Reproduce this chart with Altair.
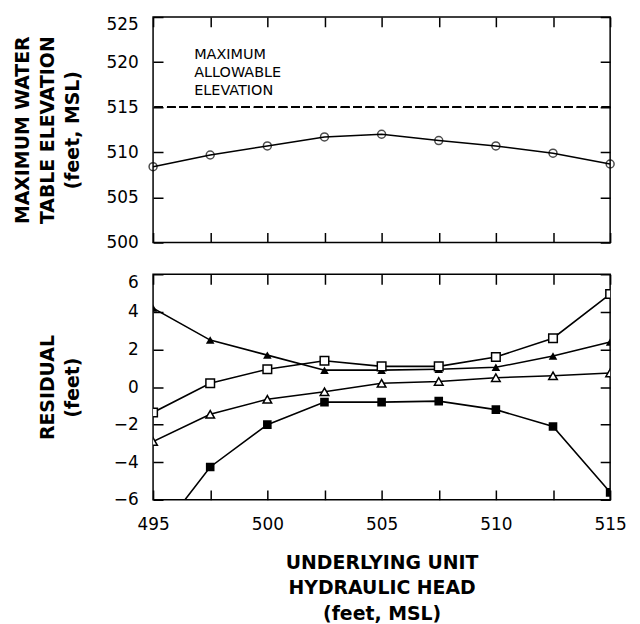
import altair as alt
import pandas as pd

# ---- data ----
head = [495, 497.5, 500, 502.5, 505, 507.5, 510, 512.5, 515]
max_wt = [508.4, 509.7, 510.7, 511.7, 512.0, 511.3, 510.7, 509.9, 508.7]

filled_tri = [4.2, 2.5, 1.7, 0.9, 0.9, 0.95, 1.05, 1.65, 2.4]
open_sq = [-1.35, 0.2, 0.95, 1.4, 1.1, 1.1, 1.6, 2.6, 4.95]
open_tri = [-2.9, -1.45, -0.65, -0.25, 0.2, 0.3, 0.5, 0.6, 0.75]
filled_sq = [-8.2, -4.25, -2.0, -0.8, -0.8, -0.75, -1.2, -2.1, -5.6]

series_names = ["filled_tri", "open_sq", "open_tri", "filled_sq"]
series_vals = [filled_tri, open_sq, open_tri, filled_sq]
series_shape = ["triangle-up", "square", "triangle-up", "square"]
series_filled = [True, False, False, True]

x_ticks = [495, 497.5, 500, 502.5, 505, 507.5, 510, 512.5, 515]
top_y_ticks = [500, 505, 510, 515, 520, 525]
bot_y_ticks = [-6, -4, -2, 0, 2, 4, 6]
allowable = 515
ann_text = "MAXIMUM\nALLOWABLE\nELEVATION"
ann_x = [496.8]
ann_y = [521.6]

W, H = 460, 227
FONT = "DejaVu Sans"

top_df = pd.DataFrame({"head": head, "elev": max_wt})
rows = []
for name, vals, shp, fil in zip(series_names, series_vals, series_shape, series_filled):
    for h, v in zip(head, vals):
        rows.append({"head": h, "res": v, "series": name, "shape": shp, "filled": fil})
bot_df = pd.DataFrame(rows)
ann_df = pd.DataFrame({"x": ann_x, "y": ann_y, "t": [ann_text]})

x_scale = alt.Scale(domain=[495, 515], nice=False, zero=False)

x_axis_top = alt.Axis(values=x_ticks, labels=False, ticks=False, domain=False, title=None,
                      grid=True, gridColor="black", gridWidth=1.5, gridDash=[10, H - 20],
                      gridOpacity=1)
x_axis_bot = alt.Axis(values=x_ticks, format="d", ticks=False, domain=False,
                      labelExpr="datum.value % 5 == 0 ? datum.label : ''",
                      labelFlush=False,
                      labelFontSize=17, labelPadding=17, labelColor="black",
                      grid=True, gridColor="black", gridWidth=1.5, gridDash=[10, H - 20],
                      gridOpacity=1,
                      title=["UNDERLYING UNIT", "HYDRAULIC HEAD", "(feet, MSL)"],
                      titleFontSize=19, titleFontWeight="bold", titleLineHeight=25.5,
                      titleY=54, titleBaseline="top", titleColor="black")

def y_axis(values, title, top_val, tx):
    return alt.Axis(values=values, ticks=False, domain=False, format="d",
                    labelFontSize=17, labelPadding=15, labelColor="black",
                    labelBaseline=alt.condition(f"datum.value == {top_val}", alt.value("top"), alt.value("middle")),
                    grid=True, gridColor="black", gridWidth=1.5, gridDash=[10, W - 20],
                    gridOpacity=1,
                    title=title, titleFontSize=19, titleFontWeight="bold",
                    titleLineHeight=25, titleX=tx, titleBaseline="bottom",
                    titleColor="black")

top_base = alt.Chart(top_df).encode(
    x=alt.X("head:Q", scale=x_scale, axis=x_axis_top),
    y=alt.Y("elev:Q", scale=alt.Scale(domain=[500, 525], nice=False, zero=False),
            axis=y_axis(top_y_ticks, ["MAXIMUM WATER", "TABLE ELEVATION", "(feet, MSL)"], 525, -121)),
)
top_line = top_base.mark_line(color="black", strokeWidth=1.6)
top_pts = top_base.mark_point(shape="circle", filled=False, color="black", size=64, strokeWidth=1.5)
rule = alt.Chart(top_df).mark_rule(color="black", strokeWidth=1.5, strokeDash=[8.5, 4]).encode(
    y=alt.datum(allowable))
ann = alt.Chart(ann_df).mark_text(align="left", baseline="top", fontSize=14.5, lineHeight=18.5,
                                  lineBreak="\n", color="black", font=FONT).encode(
    x=alt.X("x:Q"), y=alt.Y("y:Q"), text="t:N")
top = alt.layer(top_line, top_pts, rule, ann).properties(width=W, height=H)

bot_base = alt.Chart(bot_df).encode(
    x=alt.X("head:Q", scale=x_scale, axis=x_axis_bot),
    y=alt.Y("res:Q", scale=alt.Scale(domain=[-6, 6], nice=False),
            axis=y_axis(bot_y_ticks, ["RESIDUAL", "(feet)"], 6, -96)),
)
bot_line = bot_base.mark_line(color="black", strokeWidth=1.6, clip=True).encode(detail="series:N")
shape_scale = alt.Scale(domain=["triangle-up", "square"], range=["triangle-up", "square"])
bot_filled = bot_base.transform_filter("datum.filled").mark_point(
    filled=True, color="black", size=75, clip=True, opacity=1).encode(
    shape=alt.Shape("shape:N", scale=shape_scale, legend=None))
bot_open = bot_base.transform_filter("!datum.filled").mark_point(
    filled=True, fill="white", stroke="black", strokeWidth=1.5, size=75, clip=True, opacity=1).encode(
    shape=alt.Shape("shape:N", scale=shape_scale, legend=None))
bot = alt.layer(bot_line, bot_filled, bot_open).properties(width=W, height=H)

chart = alt.vconcat(top, bot, spacing=21).configure(font=FONT).configure_view(
    stroke="black", strokeWidth=1.5).configure_axis(labelFont=FONT, titleFont=FONT)

chart.save("out.html", embed_options={"renderer": "svg", "actions": False})
